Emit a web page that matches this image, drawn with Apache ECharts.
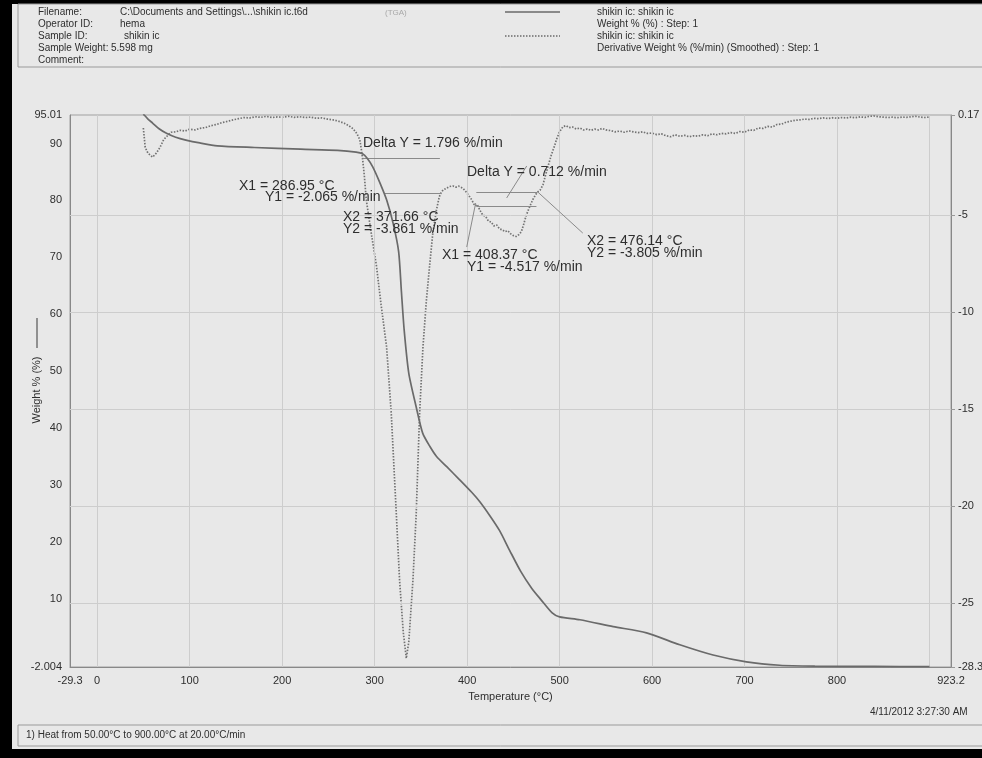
<!DOCTYPE html>
<html>
<head>
<meta charset="utf-8">
<script src="https://cdn.jsdelivr.net/npm/echarts@6/dist/echarts.min.js"></script>
<style>
html,body{margin:0;padding:0;background:#e8e8e8;}
#c{width:982px;height:758px;}
</style>
</head>
<body>
<div id="c"></div>
<script>
// ---- data ----
const xTickLabels = [-29.3, 0, 100, 200, 300, 400, 500, 600, 700, 800, 923.2];
const xGridValues = [0, 100, 200, 300, 400, 500, 600, 700, 800, 900];
const weightTicks = [95.01, 90, 80, 70, 60, 50, 40, 30, 20, 10, -2.004];
const derivTicks = [0.17, -5, -10, -15, -20, -25, -28.3];
const derivGrid = [-5, -10, -15, -20, -25];

// Weight % vs temperature (°C)
const weightTemp = [50, 51, 55, 60, 67, 75, 85, 96, 111, 130, 170, 220, 260, 280, 287, 292, 298, 306, 313, 320, 326, 329, 332, 337, 345, 352, 360, 367, 378, 392, 405, 414, 425, 435, 446, 458, 470, 480, 492, 500, 522, 558, 594, 630, 666, 702, 738, 776, 840, 900];
const weightVal  = [95.2, 95.0, 94.3, 93.6, 92.6, 91.8, 91.1, 90.6, 90.1, 89.6, 89.3, 89.0, 88.8, 88.5, 88.2, 87.4, 85.9, 83.0, 80.1, 76.0, 71.0, 64.0, 57.2, 49.6, 43.7, 39.1, 36.7, 35.0, 33.2, 30.9, 28.7, 27.0, 24.5, 22.0, 18.5, 14.8, 11.8, 9.8, 7.5, 6.8, 6.3, 5.1, 4.0, 1.9, 0.1, -1.1, -1.7, -1.85, -1.9, -1.95];

// Derivative weight % (%/min) vs temperature (°C)
const derivTemp = [50, 51, 52, 55, 60, 64, 68, 72, 76, 80, 85, 90, 95, 100, 106, 111, 117, 123, 129, 135, 141, 147, 153, 159, 165, 171, 177, 183, 189, 195, 201, 207, 213, 219, 225, 231, 237, 243, 249, 255, 261, 267, 272, 277, 281, 284, 286, 287, 289, 291, 296, 302, 307, 313, 318, 323.5, 327, 331, 334.3, 337, 341.5, 345, 348.7, 352.3, 356, 359.5, 363, 367, 370, 371.66, 374, 377.6, 381, 384.7, 388, 391, 395.5, 399, 402.7, 405, 408.37, 411, 414, 417, 420, 423, 426, 429, 432, 435, 438, 441, 444, 447, 450, 453, 456, 458.7, 461, 464, 467.7, 471, 474, 476.14, 479, 482, 485, 488, 491, 494, 497, 500, 503.7, 507, 510, 514, 518, 522, 526, 530, 534, 538, 542, 546, 550, 555, 560, 565, 570, 575, 580, 585, 590, 595, 600, 605, 610, 615, 620, 625, 630, 635, 640, 645, 650, 655, 660, 665, 670, 675, 680, 685, 690, 695, 700, 705, 710, 715, 720, 725, 730, 735, 740, 745, 750, 755, 760, 765, 770, 775, 780, 785, 790, 795, 800, 805, 810, 815, 820, 825, 830, 835, 840, 845, 850, 855, 860, 865, 870, 875, 880, 885, 890, 895, 900];
const derivVal  = [-0.5, -1.0, -1.5, -1.8, -2.0, -1.8, -1.5, -1.1, -0.9, -0.72, -0.7, -0.62, -0.66, -0.56, -0.6, -0.52, -0.48, -0.38, -0.32, -0.22, -0.16, -0.08, -0.02, 0.04, 0.02, 0.08, 0.05, 0.1, 0.04, 0.07, 0.06, 0.1, 0.05, 0.08, 0.04, 0.06, 0.0, 0.02, -0.04, -0.08, -0.15, -0.25, -0.38, -0.55, -0.8, -1.1, -1.7, -2.065, -3.0, -4.2, -5.8, -7.6, -9.6, -11.8, -15.2, -20.4, -23.8, -26.5, -27.85, -27.0, -23.8, -20.4, -15.2, -11.8, -9.4, -7.6, -5.9, -4.7, -4.04, -3.861, -3.7, -3.61, -3.52, -3.49, -3.55, -3.5, -3.61, -3.8, -4.04, -4.2, -4.517, -4.45, -4.75, -4.99, -5.05, -5.3, -5.35, -5.55, -5.5, -5.7, -5.75, -5.85, -5.8, -5.95, -6.05, -6.1, -6.0, -5.85, -5.5, -5.0, -4.56, -4.2, -3.95, -3.805, -3.7, -3.44, -2.9, -2.4, -1.9, -1.5, -1.05, -0.7, -0.43, -0.38, -0.48, -0.45, -0.55, -0.5, -0.6, -0.55, -0.62, -0.56, -0.6, -0.52, -0.6, -0.63, -0.7, -0.66, -0.72, -0.65, -0.7, -0.74, -0.7, -0.78, -0.76, -0.84, -0.8, -0.9, -0.95, -0.85, -0.93, -0.88, -0.95, -0.9, -0.92, -0.85, -0.9, -0.8, -0.85, -0.78, -0.8, -0.74, -0.78, -0.68, -0.72, -0.6, -0.62, -0.5, -0.52, -0.42, -0.45, -0.32, -0.3, -0.2, -0.15, -0.1, -0.08, -0.04, -0.06, 0.0, -0.02, 0.02, -0.01, 0.03, 0.0, 0.04, 0.02, 0.06, 0.03, 0.07, 0.05, 0.1, 0.12, 0.08, 0.06, 0.04, 0.06, 0.03, 0.06, 0.05, 0.08, 0.1, 0.06, 0.04, 0.07];

// Delta-Y analysis markers (temperature, %/min)
const deltaA = {x1: 286.95, y1: -2.065, x2: 371.66, y2: -3.861};
const deltaB = {x1: 408.37, y1: -4.517, x2: 476.14, y2: -3.805};

const weightData = weightTemp.map((t, i) => [t, weightVal[i]]);
const derivData = derivTemp.map((t, i) => [t, derivVal[i]]);

const FONT = '"Liberation Sans", Arial, sans-serif';
const TXT = '#2e2e2e';
const GRID = '#cdcdcd';
const CURVE = '#6a6a6a';

const chart = echarts.init(document.getElementById('c'), null, {renderer: 'canvas'});

function txt(x, y, s, size, fill) {
  return {type: 'text', x: x, y: y, silent: true, z: 50,
    style: {text: s, fill: fill || TXT, font: (size || 10) + 'px ' + FONT, textVerticalAlign: 'middle'}};
}

const annFont = 14;
const graphics = [
  // black scan frame
  {type: 'rect', shape: {x: 0, y: 0, width: 982, height: 4}, style: {fill: '#000'}, silent: true},
  {type: 'rect', shape: {x: 0, y: 0, width: 12, height: 758}, style: {fill: '#000'}, silent: true},
  {type: 'rect', shape: {x: 0, y: 749, width: 982, height: 9}, style: {fill: '#000'}, silent: true},
  // header box
  {type: 'rect', shape: {x: 18, y: 4, width: 970, height: 63}, style: {fill: 'none', stroke: '#9a9a9a', lineWidth: 1}, silent: true},
  txt(38, 12, 'Filename:'), txt(120, 12, 'C:\\Documents and Settings\\...\\shikin ic.t6d'),
  txt(38, 24, 'Operator ID:'), txt(120, 24, 'hema'),
  txt(38, 36, 'Sample ID:'), txt(124, 36, 'shikin ic'),
  txt(38, 48, 'Sample Weight:'), txt(111, 48, '5.598 mg'),
  txt(38, 60, 'Comment:'),
  txt(385, 13, '(TGA)', 8, '#a8a8a8'),
  {type: 'line', shape: {x1: 505, y1: 12, x2: 560, y2: 12}, style: {stroke: CURVE, lineWidth: 1.5}, silent: true},
  {type: 'line', shape: {x1: 505, y1: 36, x2: 560, y2: 36}, style: {stroke: CURVE, lineWidth: 1.5, lineDash: [1.5, 1.5]}, silent: true},
  txt(597, 12, 'shikin ic: shikin ic'),
  txt(597, 24, 'Weight % (%) : Step: 1'),
  txt(597, 36, 'shikin ic: shikin ic'),
  txt(597, 48, 'Derivative Weight % (%/min) (Smoothed) : Step: 1'),
  // left axis title with its line symbol
  {type: 'text', x: 37, y: 390, rotation: Math.PI / 2, silent: true,
    style: {text: 'Weight % (%)', fill: TXT, font: '11px ' + FONT, textAlign: 'center', textVerticalAlign: 'middle'}},
  {type: 'line', shape: {x1: 37, y1: 318, x2: 37, y2: 348}, style: {stroke: '#555', lineWidth: 1.2}, silent: true},
  // annotations
  txt(363, 143, 'Delta Y = 1.796 %/min', annFont),
  txt(239, 186, 'X1 = 286.95 °C', annFont),
  txt(265, 197, 'Y1 = -2.065 %/min', annFont),
  txt(343, 217, 'X2 = 371.66 °C', annFont),
  txt(343, 229, 'Y2 = -3.861 %/min', annFont),
  txt(467, 172, 'Delta Y = 0.712 %/min', annFont),
  txt(442, 255, 'X1 = 408.37 °C', annFont),
  txt(467, 267, 'Y1 = -4.517 %/min', annFont),
  txt(587, 241, 'X2 = 476.14 °C', annFont),
  txt(587, 253, 'Y2 = -3.805 %/min', annFont),
  // footer
  txt(870, 712, '4/11/2012 3:27:30 AM', 10),
  {type: 'rect', shape: {x: 18, y: 725, width: 970, height: 21}, style: {fill: 'none', stroke: '#9a9a9a', lineWidth: 1}, silent: true},
  txt(26, 735, '1) Heat from 50.00°C to 900.00°C at 20.00°C/min', 10)
];

const annLine = {color: '#8a8a8a', width: 1, type: 'solid'};
const option = {
  backgroundColor: '#e8e8e8',
  animation: false,
  grid: {left: 70, right: 31, top: 115, bottom: 91, containLabel: false, outerBoundsMode: 'none',
    show: true, borderColor: '#a0a0a0', borderWidth: 1, backgroundColor: 'transparent'},
  xAxis: {
    type: 'value', min: -29.3, max: 923.2,
    name: 'Temperature (°C)', nameLocation: 'middle', nameGap: 24,
    nameTextStyle: {color: TXT, fontFamily: FONT, fontSize: 11},
    axisLine: {show: true, onZero: false, lineStyle: {color: '#888'}},
    axisTick: {show: false},
    splitLine: {show: false},
    axisLabel: {customValues: xTickLabels, color: TXT, fontFamily: FONT, fontSize: 11, margin: 8,
      formatter: v => String(v)}
  },
  yAxis: [
    {type: 'value', min: -2.004, max: 95.01, position: 'left',
      axisLine: {show: true, onZero: false, lineStyle: {color: '#888'}},
      axisTick: {show: false}, splitLine: {show: false},
      axisLabel: {customValues: weightTicks, color: TXT, fontFamily: FONT, fontSize: 11, margin: 8,
        formatter: v => String(v)}},
    {type: 'value', min: -28.3, max: 0.17, position: 'right',
      axisLine: {show: true, onZero: false, lineStyle: {color: '#888'}},
      axisTick: {show: true, customValues: derivTicks, length: 4, inside: false, lineStyle: {color: '#999'}},
      splitLine: {show: false},
      axisLabel: {customValues: derivTicks, color: TXT, fontFamily: FONT, fontSize: 11, margin: 7,
        formatter: v => (v === -28.3 ? '-28.30' : String(v))}}
  ],
  series: [
    {name: 'grid', type: 'line', data: [], yAxisIndex: 1, z: 1, silent: true,
      markLine: {silent: true, symbol: 'none', label: {show: false}, animation: false,
        lineStyle: {color: GRID, width: 1, type: 'solid'},
        data: xGridValues.map(v => ({xAxis: v})).concat(derivGrid.map(v => ({yAxis: v})))}},
    {name: 'Weight % (%)', type: 'line', data: weightData, yAxisIndex: 0, showSymbol: false, smooth: 0.25,
      lineStyle: {color: CURVE, width: 1.7}, z: 5},
    {name: 'Derivative Weight %', type: 'line', data: derivData, yAxisIndex: 1, showSymbol: false,
      lineStyle: {color: '#727272', width: 1.7, type: [1.5, 1.5]}, z: 4,
      markLine: {silent: true, symbol: 'none', label: {show: false}, animation: false, lineStyle: annLine,
        data: [
          [{coord: [deltaA.x1, deltaA.y1]}, {coord: [370.6, deltaA.y1]}],
          [{coord: [311, deltaA.y2]}, {coord: [deltaA.x2, deltaA.y2]}],
          [{coord: [410, deltaB.y1]}, {coord: [475, deltaB.y1]}],
          [{coord: [410, deltaB.y2]}, {coord: [deltaB.x2, deltaB.y2]}],
          [{coord: [399.6, -6.64]}, {coord: [409.3, -4.37]}],
          [{coord: [476.4, -3.80]}, {coord: [525.1, -5.92]}],
          [{coord: [442.8, -4.11]}, {coord: [464.5, -2.46]}]
        ]}}
  ],
  graphic: graphics
};
chart.setOption(option);
</script>
</body>
</html>
